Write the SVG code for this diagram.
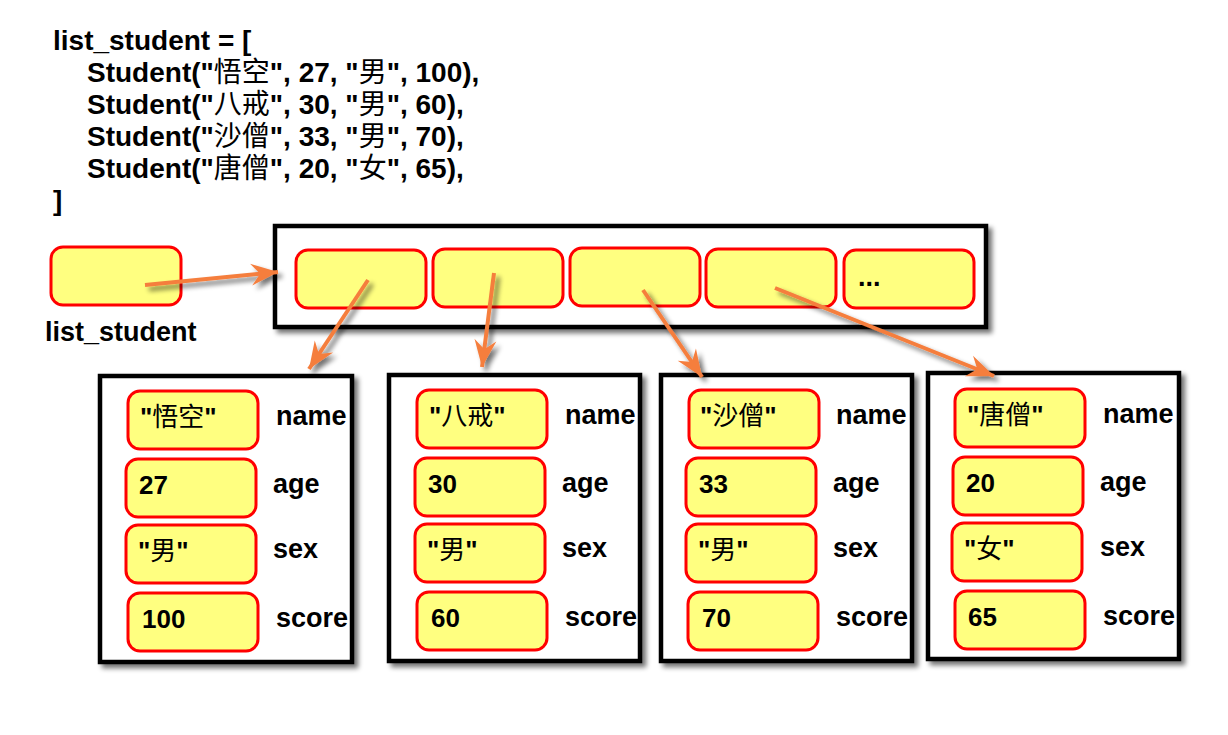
<svg xmlns="http://www.w3.org/2000/svg" width="1228" height="735" viewBox="0 0 1228 735">
<defs>
<filter id="sh" x="-20%" y="-20%" width="140%" height="140%">
<feGaussianBlur in="SourceAlpha" stdDeviation="2.5"/>
<feOffset dx="4" dy="4" result="b"/>
<feComponentTransfer><feFuncA type="linear" slope="0.55"/></feComponentTransfer>
<feMerge><feMergeNode/><feMergeNode in="SourceGraphic"/></feMerge>
</filter>
<marker id="ah" markerUnits="userSpaceOnUse" markerWidth="30" markerHeight="30" viewBox="-28 -12 30 24" refX="0" refY="0" orient="auto">
<path d="M0,0 L-27,-11 L-18,0 L-27,11 Z" fill="#F57E3E"/>
</marker>
</defs>
<style>
.t{font-family:"Liberation Sans","Noto Sans CJK SC",Arial,sans-serif;font-weight:bold;font-size:27px;fill:#000}
.k{font-size:28px}
.v{font-size:26px}
.c{font-family:"Noto Sans CJK SC","Liberation Sans",sans-serif;font-weight:400}
.cell{fill:#FFFF80;stroke:#FF0000;stroke-width:3}
.box{fill:#fff;stroke:#000;stroke-width:4.5}
.ar{stroke:#F57E3E;stroke-width:4;fill:none;marker-end:url(#ah)}
</style>
<rect width="1228" height="735" fill="#fff"/>

<g id="code" class="t k">
<text x="53" y="50">list_student = [</text>
<text x="87" y="82">Student("<tspan class="c">悟空</tspan>", 27, "<tspan class="c">男</tspan>", 100),</text>
<text x="87" y="114">Student("<tspan class="c">八戒</tspan>", 30, "<tspan class="c">男</tspan>", 60),</text>
<text x="87" y="146">Student("<tspan class="c">沙僧</tspan>", 33, "<tspan class="c">男</tspan>", 70),</text>
<text x="87" y="178">Student("<tspan class="c">唐僧</tspan>", 20, "<tspan class="c">女</tspan>", 65),</text>
<text x="53" y="210">]</text>
</g>

<g id="var">
<rect class="cell" x="51" y="247" width="130" height="58" rx="12"/>
<text class="t" x="45" y="341">list_student</text>
</g>

<g id="list">
<rect class="box" x="275" y="226" width="711" height="101" filter="url(#sh)"/>
<rect class="cell" x="296" y="250" width="130" height="58" rx="12"/>
<rect class="cell" x="433" y="249" width="130" height="58" rx="12"/>
<rect class="cell" x="570" y="248" width="130" height="58" rx="12"/>
<rect class="cell" x="706" y="249" width="130" height="58" rx="12"/>
<rect class="cell" x="844" y="250" width="130" height="58" rx="12"/>
<text class="t" x="858" y="286">...</text>
</g>

<g id="s1">
<rect class="box" x="100" y="376" width="252" height="286" filter="url(#sh)"/>
<rect class="cell" x="128" y="391" width="130" height="58" rx="12"/>
<rect class="cell" x="126" y="459" width="130" height="58" rx="12"/>
<rect class="cell" x="126" y="525" width="130" height="58" rx="12"/>
<rect class="cell" x="128" y="593" width="130" height="58" rx="12"/>
<text class="t v" x="140" y="426">"<tspan class="c">悟空</tspan>"</text>
<text class="t v" x="139" y="494">27</text>
<text class="t v" x="138" y="560">"<tspan class="c">男</tspan>"</text>
<text class="t v" x="142" y="628">100</text>
<text class="t" x="276" y="425">name</text>
<text class="t" x="273" y="493">age</text>
<text class="t" x="273" y="558">sex</text>
<text class="t" x="276" y="627">score</text>
</g>

<g id="s2">
<rect class="box" x="389" y="375" width="251" height="286" filter="url(#sh)"/>
<rect class="cell" x="417" y="390" width="130" height="58" rx="12"/>
<rect class="cell" x="415" y="458" width="130" height="58" rx="12"/>
<rect class="cell" x="415" y="524" width="130" height="58" rx="12"/>
<rect class="cell" x="417" y="592" width="130" height="58" rx="12"/>
<text class="t v" x="429" y="425">"<tspan class="c">八戒</tspan>"</text>
<text class="t v" x="428" y="493">30</text>
<text class="t v" x="427" y="559">"<tspan class="c">男</tspan>"</text>
<text class="t v" x="431" y="627">60</text>
<text class="t" x="565" y="424">name</text>
<text class="t" x="562" y="492">age</text>
<text class="t" x="562" y="557">sex</text>
<text class="t" x="565" y="626">score</text>
</g>

<g id="s3">
<rect class="box" x="661" y="375" width="251" height="286" filter="url(#sh)"/>
<rect class="cell" x="689" y="390" width="130" height="58" rx="12"/>
<rect class="cell" x="686" y="458" width="130" height="58" rx="12"/>
<rect class="cell" x="686" y="524" width="130" height="58" rx="12"/>
<rect class="cell" x="688" y="592" width="130" height="58" rx="12"/>
<text class="t v" x="700" y="425">"<tspan class="c">沙僧</tspan>"</text>
<text class="t v" x="699" y="493">33</text>
<text class="t v" x="698" y="559">"<tspan class="c">男</tspan>"</text>
<text class="t v" x="702" y="627">70</text>
<text class="t" x="836" y="424">name</text>
<text class="t" x="833" y="492">age</text>
<text class="t" x="833" y="557">sex</text>
<text class="t" x="836" y="626">score</text>
</g>

<g id="s4">
<rect class="box" x="928" y="373" width="251" height="286" filter="url(#sh)"/>
<rect class="cell" x="955" y="389" width="130" height="58" rx="12"/>
<rect class="cell" x="953" y="457" width="130" height="58" rx="12"/>
<rect class="cell" x="952" y="523" width="130" height="58" rx="12"/>
<rect class="cell" x="955" y="591" width="130" height="58" rx="12"/>
<text class="t v" x="967" y="424">"<tspan class="c">唐僧</tspan>"</text>
<text class="t v" x="966" y="492">20</text>
<text class="t v" x="964" y="558">"<tspan class="c">女</tspan>"</text>
<text class="t v" x="968" y="626">65</text>
<text class="t" x="1103" y="423">name</text>
<text class="t" x="1100" y="491">age</text>
<text class="t" x="1100" y="556">sex</text>
<text class="t" x="1103" y="625">score</text>
</g>

<g id="connectors" filter="url(#sh)">
<line class="ar" x1="145" y1="285" x2="278" y2="272"/>
<line class="ar" x1="368" y1="280" x2="309" y2="369"/>
<line class="ar" x1="494" y1="273" x2="482" y2="367"/>
<line class="ar" x1="643" y1="290" x2="702" y2="377"/>
<line class="ar" x1="775" y1="288" x2="994" y2="376"/>
</g>
</svg>
